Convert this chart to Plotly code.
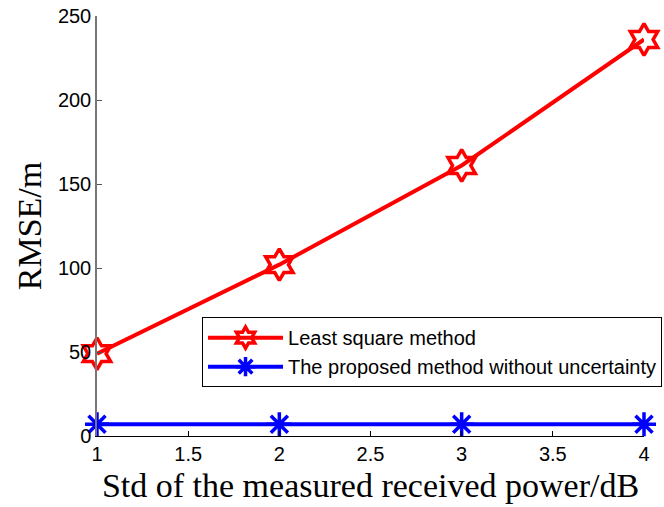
import plotly.graph_objects as go

std_db = [1, 2, 3, 4]
ls_rmse = [49, 102, 161, 236]
proposed_rmse = [7, 7, 7, 7]
x_ticks = [1, 1.5, 2, 2.5, 3, 3.5, 4]
y_ticks = [0, 50, 100, 150, 200, 250]

fig = go.Figure()
fig.add_trace(go.Scatter(
    x=std_db, y=ls_rmse, mode="lines+markers", name="Least square method",
    line=dict(color="#ff0000", width=4),
    marker=dict(symbol="hexagram-open", size=24, color="#ff0000", line=dict(width=3.5, color="#ff0000")),
    cliponaxis=False,
))
fig.add_trace(go.Scatter(
    x=std_db, y=proposed_rmse, mode="lines+markers", name="The proposed method without uncertainty",
    line=dict(color="#0000ff", width=4),
    marker=dict(symbol="asterisk-open", size=20, color="#0000ff", line=dict(width=3.5, color="#0000ff")),
    cliponaxis=False,
))

fig.update_layout(
    width=664, height=507,
    margin=dict(l=97, r=20, t=16, b=71, autoexpand=False),
    paper_bgcolor="white", plot_bgcolor="white",
    showlegend=True,
    legend=dict(
        x=0.192, y=0.283, xanchor="left", yanchor="top",
        bgcolor="white", bordercolor="black", borderwidth=1,
        font=dict(family="Liberation Sans, Arial", size=20, color="black"),
        tracegroupgap=0, itemwidth=75,
    ),
    xaxis=dict(
        range=[1, 4], tickvals=x_ticks, ticktext=[str(v) for v in x_ticks],
        automargin=False,
        showgrid=False, zeroline=False, showline=True, linecolor="black", linewidth=1,
        ticks="inside", ticklen=5, tickcolor="black",
        tickfont=dict(family="Liberation Sans, Arial", size=20, color="black"),
        title=dict(text="Std of the measured received power/dB",
                   font=dict(family="Liberation Serif, Times New Roman", size=34, color="black"), standoff=9),
    ),
    yaxis=dict(
        range=[0, 250], tickvals=y_ticks, ticktext=[str(v) for v in y_ticks],
        automargin=False,
        showgrid=False, zeroline=False, showline=True, linecolor="#777777", linewidth=1.5,
        ticks="inside", ticklen=5, tickcolor="#555555",
        tickfont=dict(family="Liberation Sans, Arial", size=20, color="black"),
        title=dict(text="RMSE/m",
                   font=dict(family="Liberation Serif, Times New Roman", size=34, color="black"), standoff=6),
    ),
)

fig.write_html(
    "out.html",
    config={"displayModeBar": False},
    post_script="document.body.style.margin='0';document.body.style.overflow='hidden';",
)
